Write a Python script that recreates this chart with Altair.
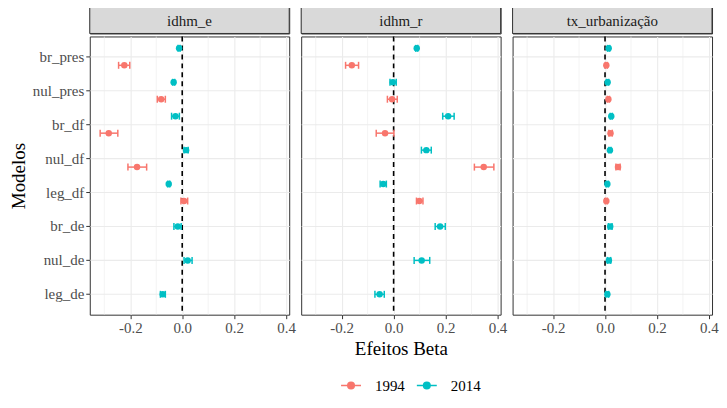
import altair as alt
import pandas as pd

models = ["br_pres", "nul_pres", "br_df", "nul_df", "leg_df", "br_de", "nul_de", "leg_de"]
variables = ["idhm_e", "idhm_r", "tx_urbanização"]
years = ["1994", "2014"]
colors = ["#F8766D", "#00BFC4"]
models_1994 = models[:5]

# idhm_e
e_1994_est = [-0.223, -0.081, -0.283, -0.174, 0.007]
e_1994_lo = [-0.245, -0.096, -0.316, -0.209, -0.005]
e_1994_hi = [-0.202, -0.065, -0.248, -0.137, 0.021]
e_2014_est = [-0.012, -0.033, -0.026, 0.015, -0.052, -0.017, 0.021, -0.075]
e_2014_lo = [-0.016, -0.037, -0.041, 0.007, -0.056, -0.032, 0.007, -0.084]
e_2014_hi = [-0.008, -0.029, -0.011, 0.023, -0.048, -0.004, 0.038, -0.065]

# idhm_r
r_1994_est = [-0.161, -0.006, -0.033, 0.347, 0.099]
r_1994_lo = [-0.185, -0.024, -0.067, 0.311, 0.088]
r_1994_hi = [-0.135, 0.014, 0.001, 0.386, 0.113]
r_2014_est = [0.089, -0.003, 0.210, 0.126, -0.040, 0.179, 0.108, -0.054]
r_2014_lo = [0.085, -0.014, 0.189, 0.107, -0.052, 0.160, 0.079, -0.072]
r_2014_hi = [0.093, 0.010, 0.233, 0.145, -0.028, 0.199, 0.139, -0.036]

# tx_urbanização
u_1994_est = [0.005, 0.013, 0.021, 0.050, 0.005]
u_1994_lo = [0.001, 0.009, 0.015, 0.042, 0.001]
u_1994_hi = [0.009, 0.017, 0.028, 0.058, 0.009]
u_2014_est = [0.014, 0.010, 0.024, 0.019, 0.009, 0.020, 0.015, 0.009]
u_2014_lo = [0.010, 0.006, 0.020, 0.015, 0.005, 0.013, 0.009, 0.003]
u_2014_hi = [0.018, 0.014, 0.028, 0.023, 0.013, 0.027, 0.022, 0.014]

major_ticks = [-0.2, 0.0, 0.2, 0.4]
minor_ticks = [-0.3, -0.1, 0.1, 0.3]

series = {
    "idhm_e": {"1994": (e_1994_est, e_1994_lo, e_1994_hi), "2014": (e_2014_est, e_2014_lo, e_2014_hi)},
    "idhm_r": {"1994": (r_1994_est, r_1994_lo, r_1994_hi), "2014": (r_2014_est, r_2014_lo, r_2014_hi)},
    "tx_urbanização": {"1994": (u_1994_est, u_1994_lo, u_1994_hi), "2014": (u_2014_est, u_2014_lo, u_2014_hi)},
}

rows = []
for var in variables:
    for yr in years:
        est, lo, hi = series[var][yr]
        mlist = models_1994 if yr == "1994" else models
        for m, a, b, c in zip(mlist, est, lo, hi):
            slot = yr if m in models_1994 else "solo"
            rows.append({"var": var, "model": m, "year": yr, "est": a, "lo": b, "hi": c, "slot": slot})
df = pd.DataFrame(rows)

PW = 200
PH = 279
SH = 27
GAP = 4
FONT = "Liberation Serif"

cscale = alt.Scale(domain=years, range=colors)
xscale = alt.Scale(domain=[-0.356, 0.412], nice=False, zero=False)
yscale = alt.Scale(domain=models, paddingInner=0, paddingOuter=0.1)
oscale = alt.Scale(type="point", domain=["2014", "solo", "1994"], padding=2.95)

legend_path = "M-1,0H1M0.33,0A0.33,0.33,0,1,1,-0.33,0A0.33,0.33,0,1,1,0.33,0Z"


def xaxis(i):
    return alt.Axis(values=major_ticks, labelExpr="replace(format(datum.value, '.1f'), '\u2212', '-')",
                    grid=True, gridColor="#EBEBEB", gridWidth=1.1, ticks=True, domain=False,
                    title="Efeitos Beta" if i == 1 else None)


def yaxis(i):
    if i == 0:
        return alt.Axis(grid=True, gridColor="#EBEBEB", gridWidth=1.1, bandPosition=0.5,
                        domain=False, title="Modelos")
    return alt.Axis(grid=True, gridColor="#EBEBEB", gridWidth=1.1, bandPosition=0.5,
                    labels=False, ticks=False, domain=False, title=None)


def panel(i, var):
    d = df[df["var"] == var]
    xt = "Efeitos Beta" if i == 1 else None
    y = alt.Y("model:N", sort=models, scale=yscale, axis=yaxis(i))
    yo = alt.YOffset("slot:N", scale=oscale)
    minor = alt.Chart(pd.DataFrame({"v": minor_ticks})).mark_rule(color="#EBEBEB", strokeWidth=0.6).encode(
        x=alt.X("v:Q", scale=xscale, axis=xaxis(i), title=xt))
    zero = alt.Chart(pd.DataFrame({"v": [0.0]})).mark_rule(color="#000000", strokeWidth=1.6, strokeDash=[5, 4]).encode(
        x=alt.X("v:Q", scale=xscale, axis=xaxis(i), title=xt))
    base = alt.Chart(d)
    bars = base.mark_rule(strokeWidth=1.5).encode(
        x=alt.X("lo:Q", scale=xscale, axis=xaxis(i), title=xt), x2="hi:Q", y=y, yOffset=yo,
        color=alt.Color("year:N", scale=cscale, legend=None))
    caps = base.transform_fold(["lo", "hi"], as_=["end", "xv"]).mark_tick(size=7, thickness=1.5, opacity=1).encode(
        x=alt.X("xv:Q", scale=xscale, axis=xaxis(i), title=xt), y=y, yOffset=yo,
        color=alt.Color("year:N", scale=cscale, legend=None))
    pts = base.mark_circle(size=42, opacity=1).encode(
        x=alt.X("est:Q", scale=xscale, axis=xaxis(i), title=xt), y=y, yOffset=yo,
        color=alt.Color("year:N", scale=cscale, legend=None))
    body = alt.layer(minor, zero, bars, caps, pts).properties(width=PW, height=PH)
    sd = pd.DataFrame({"label": [var]})
    strip_bg = alt.Chart(sd).mark_rect(fill="#D9D9D9", stroke="#333333", strokeWidth=1).encode(
        x=alt.value(0), x2=alt.value(PW), y=alt.value(0), y2=alt.value(SH))
    strip_tx = alt.Chart(sd).mark_text(font=FONT, fontSize=15, color="#1A1A1A", baseline="middle", align="center").encode(
        text="label:N", x=alt.value(PW / 2), y=alt.value(SH / 2 + 1))
    strip = alt.layer(strip_bg, strip_tx).properties(width=PW, height=SH)
    return alt.vconcat(strip, body, spacing=0)


# legend built from the years list
ld = pd.DataFrame({"year": years})
lx = alt.X("year:N", scale=alt.Scale(type="point", domain=years, range=[262, 338], padding=0), axis=None)
leg_sym = alt.Chart(ld).mark_point(shape=legend_path, size=400, filled=True, strokeWidth=1.5, opacity=1).encode(
    x=lx, y=alt.value(6),
    fill=alt.Fill("year:N", scale=cscale, legend=None),
    stroke=alt.Stroke("year:N", scale=cscale, legend=None))
leg_txt = alt.Chart(ld).mark_text(font=FONT, fontSize=15, color="#000000", align="left", baseline="middle", dx=24).encode(
    x=lx, y=alt.value(6.5), text="year:N")
legend_chart = alt.layer(leg_sym, leg_txt).properties(width=3 * PW + 20, height=12,
                                                      view=alt.ViewConfig(stroke=None))

panels = alt.hconcat(*[panel(i, v) for i, v in enumerate(variables)], spacing=GAP)

chart = alt.vconcat(panels, legend_chart, spacing=19).properties(
    padding={"left": 0, "top": -3, "right": 0, "bottom": 0}
).configure(font=FONT).configure_view(
    stroke="#333333", strokeWidth=1
).configure_axis(
    labelFont=FONT, labelFontSize=15, labelColor="#4D4D4D", tickColor="#333333", tickSize=4,
    labelPadding=2, titleFont=FONT, titleFontSize=19, titleFontWeight="normal", titleColor="#000000",
    titlePadding=4
).configure_axisX(titlePadding=4)

chart.save("out.html", embed_options={"renderer": "svg", "actions": False})
